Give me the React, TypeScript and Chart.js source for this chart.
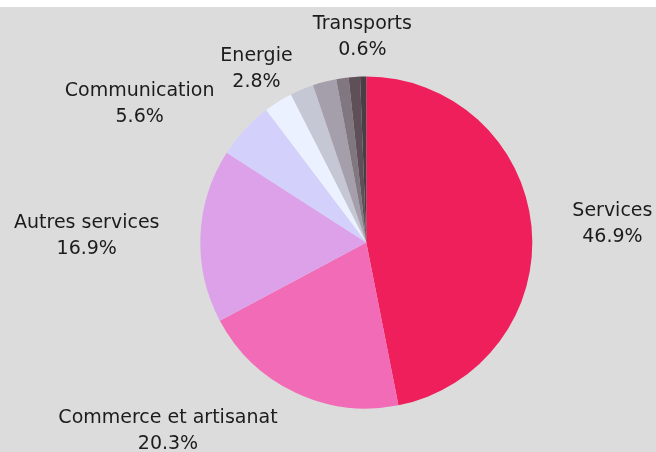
import React, { useEffect, useRef } from "react";
import { Chart, registerables } from "chart.js";

Chart.register(...registerables);

const categories = [
  "Services",
  "Commerce et artisanat",
  "Autres services",
  "Communication",
  "Energie",
  "",
  "",
  "",
  "",
  "Transports",
];
const shares = [46.9, 20.3, 16.9, 5.6, 2.8, 2.3, 2.3, 1.2, 1.1, 0.6];
const shownLabels = [true, true, true, true, true, false, false, false, false, true];
const sliceColors = [
  "#EF1F5B",
  "#F26BB6",
  "#DDA1EA",
  "#D4D0FC",
  "#ECF1FF",
  "#C6C7D4",
  "#A49FAB",
  "#817780",
  "#5F4F58",
  "#4A3E45",
];

const FONT_SIZE = 19;
const LINE_H = 26;
const LABEL_GAP = 41;

const labelPlugin = {
  id: "outerLabels",
  afterDatasetsDraw(chart: any) {
    const ctx = chart.ctx as CanvasRenderingContext2D;
    const meta = chart.getDatasetMeta(0);
    ctx.save();
    ctx.font = `${FONT_SIZE}px "DejaVu Sans", sans-serif`;
    ctx.fillStyle = "#1c1c1c";
    ctx.textBaseline = "alphabetic";
    meta.data.forEach((arc: any, i: number) => {
      if (!shownLabels[i]) return;
      const mid = (arc.startAngle + arc.endAngle) / 2;
      const dx = Math.cos(mid);
      const dy = Math.sin(mid);
      const rr = arc.outerRadius + LABEL_GAP;
      const ax = arc.x + dx * rr;
      const ay = arc.y + dy * rr;
      const lines = [categories[i], shares[i].toFixed(1) + "%"];
      const w = Math.max(...lines.map((l) => ctx.measureText(l).width));
      let cx: number;
      if (dy < -0.8) cx = ax;
      else if (dx >= 0) cx = ax + w / 2;
      else cx = ax - w / 2;
      ctx.textAlign = "center";
      lines.forEach((l, k) => {
        const lc = ay - ((lines.length - 1) / 2) * LINE_H + k * LINE_H;
        ctx.fillText(l, cx, lc + 0.365 * FONT_SIZE);
      });
    });
    ctx.restore();
  },
};

export default function App() {
  const ref = useRef<HTMLCanvasElement | null>(null);
  useEffect(() => {
    if (!ref.current) return;
    const chart = new Chart(ref.current, {
      type: "pie",
      data: {
        labels: categories,
        datasets: [
          {
            data: shares,
            backgroundColor: sliceColors,
            borderWidth: 0,
            hoverOffset: 0,
          },
        ],
      },
      options: {
        responsive: false,
        animation: false,
        events: [],
        layout: {
          padding: { left: 200.3, right: 123.7, top: 69.5, bottom: 43.5 },
        },
        plugins: {
          legend: { display: false },
          tooltip: { enabled: false },
        },
      },
      plugins: [labelPlugin],
    });
    return () => chart.destroy();
  }, []);
  return (
    <div
      style={{
        position: "absolute",
        left: 0,
        top: 7,
        width: 656,
        height: 445,
        background: "#DCDCDC",
      }}
    >
      <canvas ref={ref} width={656} height={445} style={{ display: "block" }} />
    </div>
  );
}
